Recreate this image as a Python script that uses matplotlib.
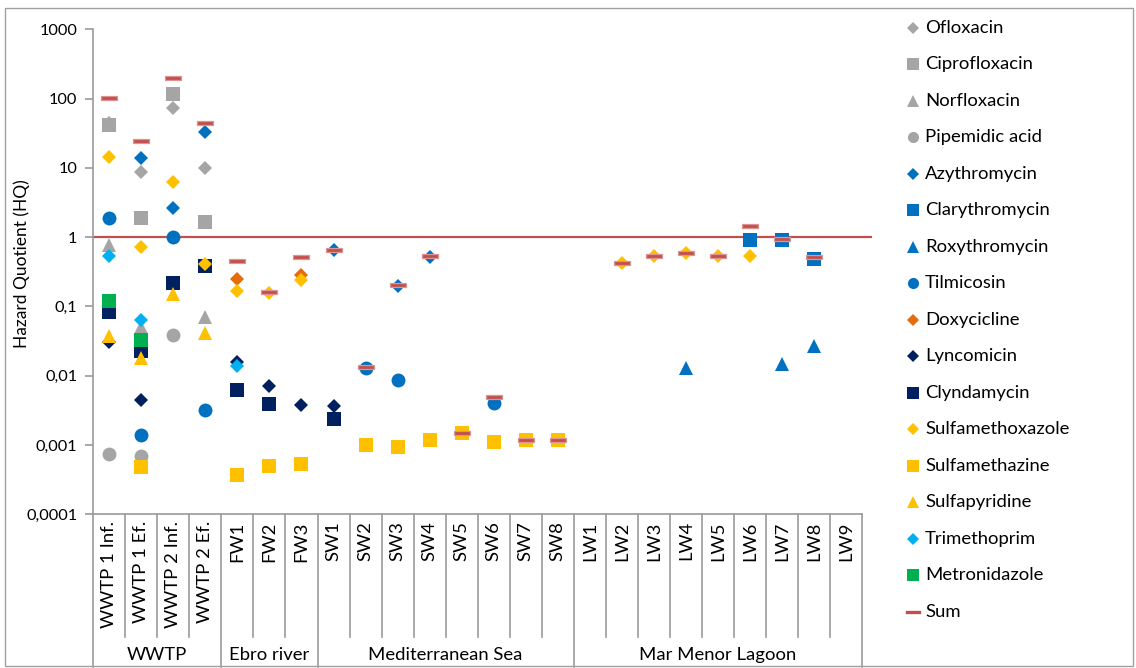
import numpy as np
import matplotlib
matplotlib.use("Agg")
import matplotlib.pyplot as plt
from matplotlib.lines import Line2D
from matplotlib.patches import Rectangle

plt.rcParams['font.family'] = ['Lato', 'DejaVu Sans']

nan = np.nan

# Sampling sites (first level) and their groups (second level)
sites = ["WWTP 1 Inf.", "WWTP 1 Ef.", "WWTP 2 Inf.", "WWTP 2 Ef.",
         "FW1", "FW2", "FW3",
         "SW1", "SW2", "SW3", "SW4", "SW5", "SW6", "SW7", "SW8",
         "LW1", "LW2", "LW3", "LW4", "LW5", "LW6", "LW7", "LW8", "LW9"]
groups = ["WWTP", "Ebro river", "Mediterranean Sea", "Mar Menor Lagoon"]
group_sizes = [4, 3, 8, 9]

# Hazard quotients per compound (NaN = not detected)
ofloxacin        = [45, 8.6, 73, 10] + [nan] * 20
ciprofloxacin    = [41, 1.9, 118, 1.63] + [nan] * 20
norfloxacin      = [0.78, 0.051, nan, 0.071] + [nan] * 20
pipemidic_acid   = [0.00074, 0.0007, 0.0385, nan] + [nan] * 20
azythromycin     = [nan, 13.8, 2.6, 32.7, nan, nan, nan,
                    0.65, nan, 0.2, 0.52, nan, nan, nan, nan] + [nan] * 9
clarythromycin   = [nan] * 15 + [nan, nan, nan, nan, nan, 0.90, 0.90, 0.48, nan]
roxythromycin    = [nan] * 15 + [nan, nan, nan, 0.013, nan, nan, 0.015, 0.027, nan]
tilmicosin       = [1.88, 0.0014, 1.0, 0.0032, nan, nan, nan,
                    nan, 0.013, 0.0087, nan, nan, 0.0040, nan, nan] + [nan] * 9
doxycicline      = [nan, nan, nan, nan, 0.25, nan, 0.28] + [nan] * 17
lyncomicin       = [0.031, 0.0045, nan, nan, 0.016, 0.0071, 0.0038,
                    0.0037] + [nan] * 16
clyndamycin      = [0.084, 0.023, 0.215, 0.385, 0.0062, 0.0039, nan,
                    0.0024] + [nan] * 16
sulfamethoxazole = [14.3, 0.72, 6.2, 0.41, 0.166, 0.157, 0.24] + [nan] * 8 + \
                   [nan, 0.42, 0.53, 0.60, 0.53, 0.53, nan, nan, nan]
sulfamethazine   = [nan, 0.00048, nan, nan, 0.00037, 0.00049, 0.00053,
                    nan, 0.00099, 0.00093, 0.00119, 0.0015, 0.0011, 0.0012, 0.0012] + [nan] * 9
sulfapyridine    = [0.037, 0.018, 0.149, 0.041] + [nan] * 20
trimethoprim     = [0.53, 0.064, nan, nan, 0.0138] + [nan] * 19
metronidazole    = [0.12, 0.033] + [nan] * 22
hq_sum           = [103, 24.5, 201, 45, 0.446, 0.163, 0.51,
                    0.66, 0.0134, 0.205, 0.53, 0.0015, 0.0050, 0.0012, 0.0012,
                    nan, 0.42, 0.53, 0.60, 0.53, 1.43, 0.94, 0.51, nan]

threshold = 1
y_ticks = [1e-4, 1e-3, 1e-2, 1e-1, 1, 10, 100, 1000]
y_tick_labels = ["0,0001", "0,001", "0,01", "0,1", "1", "10", "100", "1000"]

GRAY = "#A5A5A5"
BLUE = "#0070C0"
ORANGE = "#E46C0A"
NAVY = "#002060"
GOLD = "#FFC000"
SKY = "#00B0F0"
GREEN = "#00B050"
RED = "#C0504D"

dash = [(-1, -0.3), (1, -0.3), (1, 0.3), (-1, 0.3), (-1, -0.3)]

series = [
    ("Ofloxacin", ofloxacin, "D", GRAY),
    ("Ciprofloxacin", ciprofloxacin, "s", GRAY),
    ("Norfloxacin", norfloxacin, "^", GRAY),
    ("Pipemidic acid", pipemidic_acid, "o", GRAY),
    ("Azythromycin", azythromycin, "D", BLUE),
    ("Clarythromycin", clarythromycin, "s", BLUE),
    ("Roxythromycin", roxythromycin, "^", BLUE),
    ("Tilmicosin", tilmicosin, "o", BLUE),
    ("Doxycicline", doxycicline, "D", ORANGE),
    ("Lyncomicin", lyncomicin, "D", NAVY),
    ("Clyndamycin", clyndamycin, "s", NAVY),
    ("Sulfamethoxazole", sulfamethoxazole, "D", GOLD),
    ("Sulfamethazine", sulfamethazine, "s", GOLD),
    ("Sulfapyridine", sulfapyridine, "^", GOLD),
    ("Trimethoprim", trimethoprim, "D", SKY),
    ("Metronidazole", metronidazole, "s", GREEN),
    ("Sum", hq_sum, dash, RED),
]

plot_size = {"D": 7.2, "s": 10.5, "^": 10.0, "o": 10.0}
legend_size = {"D": 5.8, "s": 8.5, "^": 8.0, "o": 8.0}

TXT = 13.3   # category / legend text
NUM = 11.8   # y tick numbers

W, H = 1136, 668
fig = plt.figure(figsize=(W / 100, H / 100), dpi=100)
x0, x1, y_top, y_bot = 93.3, 862.0, 29.3, 514.3
ax = fig.add_axes([x0 / W, 1 - y_bot / H, (x1 - x0) / W, (y_bot - y_top) / H])

x = np.arange(len(sites))
ax.set_yscale("log")
ax.set_ylim(1e-4, 1e3)
ax.set_xlim(-0.5, len(sites) - 0.5)

# threshold HQ = 1
ax.plot([-0.5, 23.81], [threshold, threshold], color=RED, lw=1.6,
        zorder=1, clip_on=False, solid_capstyle="butt")

for name, vals, mk, col in series:
    v = np.array(vals, dtype=float)
    if isinstance(mk, str):
        ax.plot(x, v, ls="none", marker=mk, ms=plot_size[mk], color=col,
                mec=col, mew=0, zorder=3)
    else:
        ax.plot(x, v, ls="none", marker=mk, ms=11.5, mfc=RED,
                mec="#DE9492", mew=0.9, zorder=4)

# axes styling
AX_GRAY = "#9A9A9A"
for s in ["top", "right"]:
    ax.spines[s].set_visible(False)
for s in ["left", "bottom"]:
    ax.spines[s].set_color(AX_GRAY)
    ax.spines[s].set_linewidth(1.2)
ax.set_yticks(y_ticks)
ax.set_yticklabels(y_tick_labels, fontsize=NUM)
ax.yaxis.set_minor_locator(matplotlib.ticker.NullLocator())
ax.tick_params(axis="y", direction="out", length=5.5, width=1.2,
               color=AX_GRAY, pad=6)
ax.set_xticks(x)
ax.set_xticklabels(sites, rotation=90, fontsize=TXT)
ax.tick_params(axis="x", length=0, pad=5)

fig.text(21.7 / W, 1 - 264 / H, "Hazard Quotient (HQ)", rotation=90,
         ha="center", va="center", fontsize=12.5)

# multi-level category axis: separators and group labels
tr = ax.get_xaxis_transform()
inner_depth = -(637 - y_bot) / (y_bot - y_top)
outer_depth = -(667 - y_bot) / (y_bot - y_top)
edges = np.cumsum([0] + group_sizes) - 0.5
for b in np.arange(-0.5, len(sites), 1.0):
    depth = outer_depth if np.any(np.isclose(edges, b)) else inner_depth
    ax.plot([b, b], [0, depth], transform=tr, color=AX_GRAY, lw=1.2,
            clip_on=False)
label_y = -(655 - y_bot) / (y_bot - y_top)
for g, a, b in zip(groups, edges[:-1], edges[1:]):
    ax.text((a + b) / 2, label_y, g, transform=tr, ha="center", va="center",
            fontsize=TXT)

# legend
for i, (name, vals, mk, col) in enumerate(series):
    yy = 1 - (28 + 36.48 * i) / H
    if isinstance(mk, str):
        fig.add_artist(Line2D([912.7 / W], [yy], ls="none", marker=mk,
                              ms=legend_size[mk], color=col, mew=0,
                              transform=fig.transFigure))
    else:
        fig.add_artist(Line2D([906.5 / W, 919 / W], [yy, yy], color=RED,
                              lw=2.4, transform=fig.transFigure))
    fig.text(925 / W, yy, name, ha="left", va="center", fontsize=TXT)

# chart border
fig.add_artist(Rectangle((5 / W, 2 / H), 1128 / W, 658 / H, fill=False,
                         ec="#A0A0A0", lw=1.0, transform=fig.transFigure))

fig.savefig("out.png", dpi=100)
